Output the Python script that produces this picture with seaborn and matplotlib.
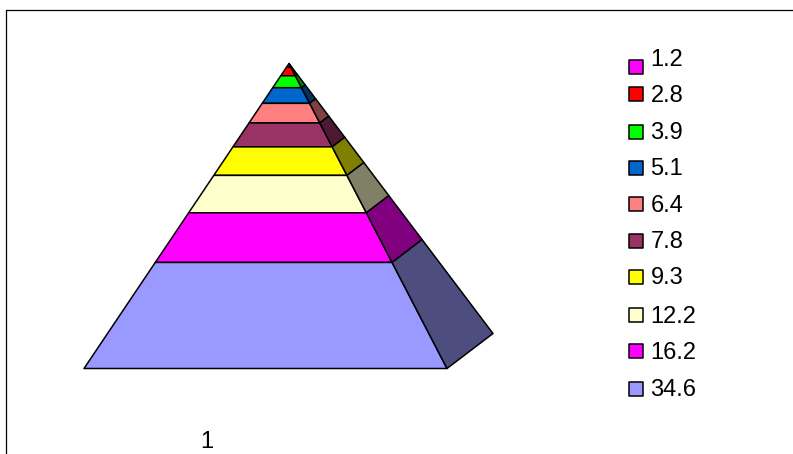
import matplotlib
matplotlib.use("Agg")
import matplotlib.pyplot as plt
import numpy as np
import pandas as pd
import seaborn as sns

labels = ["1.2", "2.8", "3.9", "5.1", "6.4", "7.8", "9.3", "12.2", "16.2", "34.6"]
values = [1.2, 2.8, 3.9, 5.1, 6.4, 7.8, 9.3, 12.2, 16.2, 34.6]
front_colors = ["#FF00FF", "#FF0000", "#00FF00", "#0066CC", "#FF8080",
                "#993366", "#FFFF00", "#FFFFCC", "#FF00FF", "#9999FF"]
side_colors = ["#800080", "#800000", "#008000", "#003366", "#804040",
               "#4D1A33", "#808000", "#808066", "#800080", "#4D4D80"]
category = "1"

# pyramid corners in pixels
apex = np.array([289, 63.5])
left = np.array([84, 368.5])
right = np.array([447, 368.5])
back = np.array([493, 333.5])

# legend rows in pixels, spacing is uneven in the original
swatch_y = [67, 94, 132, 168, 204, 241, 277, 315, 351, 389]
text_y = [60, 96, 133, 169, 206, 242, 278, 317, 353, 390]

sns.set_theme(style="white")
plt.rcParams['font.family'] = ['Liberation Sans', 'DejaVu Sans']

fig = plt.figure(figsize=(7.93, 4.54), dpi=100)
ax = fig.add_axes([0, 0, 1, 1])
ax.set_xlim(0, 793)
ax.set_ylim(454, 0)
ax.axis("off")

# slices stack from the apex down, each height follows its share
cum = np.cumsum([0] + values) / sum(values)
for i in range(len(values)):
    t0, t1 = cum[i], cum[i + 1]
    p = lambda c, t: apex + t * (c - apex)
    front = np.array([p(left, t0), p(right, t0), p(right, t1), p(left, t1)])
    side = np.array([p(right, t0), p(back, t0), p(back, t1), p(right, t1)])
    ax.fill(front[:, 0], front[:, 1], facecolor=front_colors[i], edgecolor="black", lw=1.1, joinstyle="round")
    ax.fill(side[:, 0], side[:, 1], facecolor=side_colors[i], edgecolor="black", lw=1.1, joinstyle="round")

# chart frame, top and left only
ax.plot([6, 6], [454, 9.5], color="black", lw=0.9)
ax.plot([6, 793], [9.5, 9.5], color="black", lw=0.9)

legend_df = pd.DataFrame({"x": [636] * len(labels), "y": swatch_y, "label": labels})
sns.scatterplot(data=legend_df, x="x", y="y", hue="label", palette=front_colors, marker="s",
                s=95, edgecolor="black", linewidth=1.1, legend=False, ax=ax, clip_on=False)
ax.set_xlim(0, 793)
ax.set_ylim(454, 0)
ax.axis("off")

for lab, y in zip(labels, text_y):
    ax.text(650.5, y, lab, fontsize=17, color="black", va="center", ha="left")
ax.text(207, 442, category, fontsize=17, color="black", va="center", ha="center")

fig.savefig("out.png", dpi=100)
